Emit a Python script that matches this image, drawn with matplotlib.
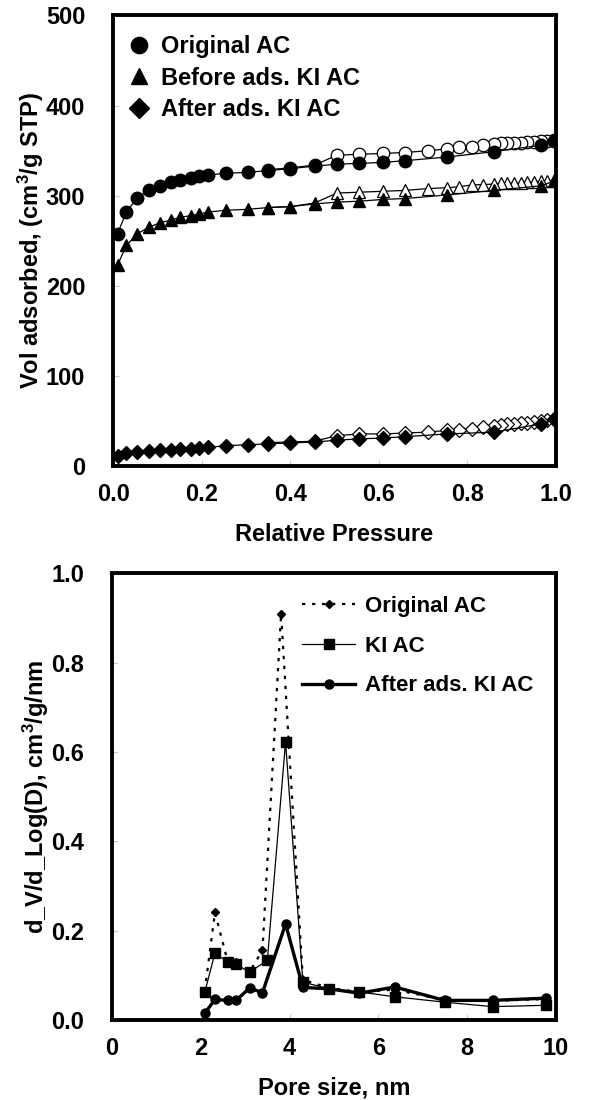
import matplotlib
matplotlib.use("Agg")
import matplotlib.pyplot as plt

plt.rcParams['font.family'] = ['Liberation Sans', 'DejaVu Sans']
plt.rcParams['font.weight'] = 'bold'
plt.rcParams['mathtext.fontset'] = 'custom'
plt.rcParams['mathtext.bf'] = 'Liberation Sans:bold'
plt.rcParams['mathtext.rm'] = 'Liberation Sans:bold'
plt.rcParams['mathtext.default'] = 'bf'

# --- isotherms (top panel) ---
p_ads = [0.01, 0.03, 0.055, 0.08, 0.105, 0.13, 0.15, 0.175, 0.195, 0.215, 0.255,
         0.305, 0.35, 0.40, 0.455, 0.505, 0.555, 0.61, 0.66, 0.755, 0.86, 0.965, 0.995]
p_des = [0.995, 0.98, 0.965, 0.95, 0.935, 0.92, 0.905, 0.89, 0.875, 0.86, 0.835,
         0.81, 0.78, 0.755, 0.71, 0.66, 0.61, 0.555, 0.505, 0.455, 0.40, 0.35]

orig_ads = [258, 282, 298, 306, 311, 315, 318, 320, 322, 323, 325,
            326, 328, 330, 333, 335, 336, 337, 339, 343, 349, 356, 361]
orig_des = [362, 361, 361, 360, 360, 359, 359, 358, 358, 357, 356,
            354, 354, 352, 350, 348, 347, 346, 345, 334, 331, 329]

before_ads = [223, 245, 258, 265, 270, 273, 276, 278, 280, 282, 284,
              285, 287, 288, 291, 293, 294, 296, 297, 301, 306, 311, 316]
before_des = [317, 316, 316, 315, 315, 314, 314, 314, 314, 313, 312.5,
              312, 310, 309, 308, 306, 305, 304, 303, 292, 288, 287]

after_ads = [11, 14.5, 16, 17, 17.7, 18.5, 19, 19.6, 20.2, 21, 23,
             24, 25, 26, 27, 29, 30.5, 31.5, 33, 36, 38, 47, 52]
after_des = [53, 51, 50, 49.5, 48.5, 48, 47, 46.5, 45.5, 44.5, 43.5,
             42, 40.7, 40, 38, 37, 36, 36, 34, 28, 27, 26.4]

# --- pore size distribution (bottom panel) ---
d_orig = [2.09, 2.32, 2.61, 2.80, 3.10, 3.39, 3.81, 4.30, 4.88, 5.57, 6.37, 7.49, 8.57, 9.77]
psd_orig = [0.065, 0.241, 0.13, 0.13, 0.108, 0.156, 0.91, 0.09, 0.072, 0.063, 0.068, 0.045, 0.043, 0.047]
d_ki = [2.09, 2.32, 2.61, 2.80, 3.10, 3.50, 3.91, 4.30, 4.88, 5.57, 6.37, 7.49, 8.57, 9.77]
psd_ki = [0.062, 0.15, 0.13, 0.125, 0.107, 0.134, 0.623, 0.085, 0.07, 0.063, 0.052, 0.04, 0.03, 0.033]
d_after = [2.09, 2.32, 2.61, 2.80, 3.10, 3.39, 3.91, 4.30, 4.88, 5.57, 6.37, 7.49, 8.57, 9.77]
psd_after = [0.015, 0.046, 0.044, 0.044, 0.072, 0.061, 0.215, 0.073, 0.07, 0.06, 0.074, 0.044, 0.044, 0.049]

FS = 17

def style_axes(ax):
    for s in ax.spines.values():
        s.set_linewidth(2.8)
    ax.tick_params(direction='in', length=4, width=0.8, color='#cccccc', labelsize=FS)
    ax.tick_params(axis='x', pad=12)
    ax.tick_params(axis='y', pad=20)
    for lab in ax.get_xticklabels() + ax.get_yticklabels():
        lab.set_fontweight('bold')

fig = plt.figure(figsize=(5.89, 11), dpi=100)

# top panel
ax1 = fig.add_axes([0.192, 0.576, 0.752, 0.41])
series = [(orig_ads, orig_des, 'o', 'Original AC'),
          (before_ads, before_des, '^', 'Before ads. KI AC'),
          (after_ads, after_des, 'D', 'After ads. KI AC')]
for ads, des, m, name in series:
    ms = 7.5 if m == 'D' else 9
    ax1.plot(p_des, des, '-', color='black', lw=0.9, marker=m, ms=ms,
             mfc='white', mec='black', mew=0.9)
    ax1.plot(p_ads, ads, '-', color='black', lw=0.9, marker=m, ms=ms,
             mfc='black', mec='black', label=name)
ax1.set_xlim(0, 1.0)
ax1.set_ylim(0, 500)
ax1.set_xticks([0.0, 0.2, 0.4, 0.6, 0.8, 1.0])
ax1.set_xticklabels(['0.0', '0.2', '0.4', '0.6', '0.8', '1.0'])
ax1.set_yticks([0, 100, 200, 300, 400, 500])
ax1.set_xlabel('Relative Pressure', fontsize=FS, fontweight='bold', labelpad=12)
ax1.set_ylabel('Vol adsorbed, (cm$^3$/g STP)', fontsize=FS, fontweight='bold', labelpad=0)
style_axes(ax1)
leg1 = ax1.legend(loc='upper left', bbox_to_anchor=(0.0, 0.993), frameon=False,
                  handlelength=0.8, handletextpad=0.55,
                  labelspacing=0.36, borderaxespad=0.5, borderpad=0.2, markerscale=1.3,
                  prop={'size': FS, 'weight': 'bold'})
for h in leg1.legend_handles:
    h.set_linestyle('None')

# bottom panel
ax2 = fig.add_axes([0.190, 0.0727, 0.754, 0.406])
ax2.plot(d_orig, psd_orig, linestyle=(0, (1.5, 3)), color='black', lw=1.6,
         marker='D', ms=4.5, label='Original AC')
ax2.plot(d_ki, psd_ki, '-', color='black', lw=0.9, marker='s', ms=6.5, label='KI AC')
ax2.plot(d_after, psd_after, '-', color='black', lw=2.4, marker='o', ms=6.5,
         label='After ads. KI AC')
ax2.set_xlim(0, 10)
ax2.set_ylim(0, 1.0)
ax2.set_xticks([0, 2, 4, 6, 8, 10])
ax2.set_yticks([0.0, 0.2, 0.4, 0.6, 0.8, 1.0])
ax2.set_yticklabels(['0.0', '0.2', '0.4', '0.6', '0.8', '1.0'])
ax2.set_xlabel('Pore size, nm', fontsize=FS, fontweight='bold', labelpad=12)
ax2.set_ylabel('d_V/d_Log(D), cm$^3$/g/nm', fontsize=FS, fontweight='bold', labelpad=0)
style_axes(ax2)
ax2.legend(loc='upper right', bbox_to_anchor=(1.0, 1.0), frameon=False,
           handlelength=2.4, handletextpad=0.45, labelspacing=0.85,
           borderaxespad=0.6, prop={'size': 16, 'weight': 'bold'})

fig.savefig('out.png', dpi=100)
